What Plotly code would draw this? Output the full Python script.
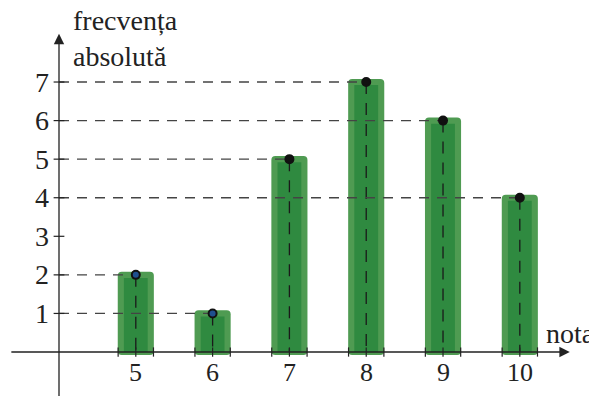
import plotly.graph_objects as go

# data
note = [5, 6, 7, 8, 9, 10]
frecventa = [2, 1, 5, 7, 6, 4]
y_ticks = [1, 2, 3, 4, 5, 6, 7]

SERIF = "Liberation Serif"
pad = 0.08

fig = go.Figure()

# outer lighter bar
fig.add_trace(go.Bar(
    x=note, y=[v + 2 * pad for v in frecventa], base=-pad, width=0.47,
    marker=dict(color="#4f9b52", cornerradius=4, line=dict(width=0)),
    hoverinfo="skip",
))
# inner darker bar
fig.add_trace(go.Bar(
    x=note, y=[v - pad for v in frecventa], base=0, width=0.31,
    marker=dict(color="#2f8a40", line=dict(width=0)),
    hoverinfo="skip",
))

# dashed guides: from the y axis to each bar top, then down to the x axis
for n, v in zip(note, frecventa):
    fig.add_trace(go.Scatter(
        x=[4, n], y=[v, v], mode="lines",
        line=dict(color="#444444", width=1.3, dash="10px,8px"),
        hoverinfo="skip",
    ))
    fig.add_trace(go.Scatter(
        x=[n, n], y=[v, 0], mode="lines",
        line=dict(color="#1a1a1a", width=1.3, dash="12px,9px"),
        hoverinfo="skip",
    ))

# dots on bar tops
fig.add_trace(go.Scatter(
    x=note, y=frecventa, mode="markers",
    marker=dict(size=8, color=["#1f4f8f", "#1f4f8f", "#111111", "#111111", "#111111", "#111111"],
                line=dict(color="#111111", width=2)),
    hoverinfo="skip",
))

# tick crosses on x axis (bar centres and edges) and y axis
tx, ty = [], []
for n in note:
    for dx in (-0.23, 0, 0.23):
        tx += [n + dx, n + dx, None]
        ty += [-0.12, 0.12, None]
for t in y_ticks:
    tx += [3.93, 4.07, None]
    ty += [t, t, None]
fig.add_trace(go.Scatter(x=tx, y=ty, mode="lines",
                         line=dict(color="#222222", width=1.2), hoverinfo="skip"))

# axes with arrows
fig.add_annotation(x=10.65, y=0, ax=3.36, ay=0, xref="x", yref="y", axref="x", ayref="y",
                   showarrow=True, arrowhead=2, arrowsize=1.6, arrowwidth=1.3,
                   arrowcolor="#222222", text="")
fig.add_annotation(x=4, y=8.25, ax=4, ay=-1.4, xref="x", yref="y", axref="x", ayref="y",
                   showarrow=True, arrowhead=2, arrowsize=1.6, arrowwidth=1.3,
                   arrowcolor="#222222", text="")

# tick labels
for t in y_ticks:
    fig.add_annotation(x=3.9, y=t, text=str(t), showarrow=False, xanchor="right",
                       yanchor="middle", font=dict(family=SERIF, size=28, color="#222222"))
for n in note:
    fig.add_annotation(x=n, y=-0.54, text=str(n), showarrow=False, xanchor="center",
                       yanchor="middle", font=dict(family=SERIF, size=26, color="#222222"))

fig.add_annotation(x=4.15, y=8.14, text="frecvența<br>absolută", showarrow=False,
                   xanchor="left", yanchor="middle", align="left",
                   font=dict(family=SERIF, size=28, color="#222222"))
fig.add_annotation(x=10.31, y=0.49, text="nota", showarrow=False, xanchor="left",
                   yanchor="middle", font=dict(family=SERIF, size=28, color="#222222"))

# ranges shifted to compensate the page's 8px body margin
fig.update_layout(
    width=597, height=396,
    margin=dict(l=0, r=0, t=0, b=0),
    paper_bgcolor="white", plot_bgcolor="white",
    barmode="overlay", showlegend=False,
    xaxis=dict(range=[3.336, 11.109], visible=False, fixedrange=True),
    yaxis=dict(range=[-1.348, 8.919], visible=False, fixedrange=True),
)

fig.write_html("out.html")
